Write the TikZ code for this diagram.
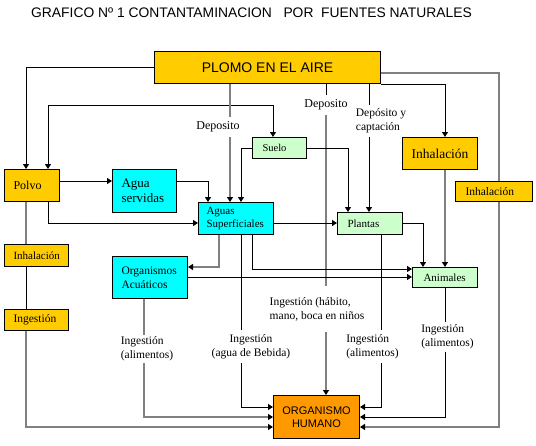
\documentclass[tikz,border=0pt]{standalone}
\usepackage{fontspec}
\setmainfont{Liberation Serif}
\newfontfamily\arialf{Liberation Sans}
\usetikzlibrary{arrows.meta}
\definecolor{gold}{RGB}{255,204,0}
\definecolor{aqua}{RGB}{0,255,255}
\definecolor{lgreen}{RGB}{204,255,204}
\definecolor{orng}{RGB}{255,153,0}
\definecolor{gline}{RGB}{128,128,128}
\newcommand\myfs[2]{\fontsize{#1}{#2}\selectfont}
\pgfdeclarelayer{background}
\pgfsetlayers{background,main}
\begin{document}
\begin{tikzpicture}[x=1pt,y=-1pt,
  box/.style={draw=black, line width=1pt, anchor=north west, inner ysep=0pt, align=left},
  lab/.style={inner xsep=1pt, align=left, font=\myfs{11.5}{14}},
  ln/.style={line width=1pt, draw=black},
  gl/.style={line width=1.3pt, draw=gline},
  arr/.style={-{Triangle[length=5pt,width=6pt,color=black]}},
  arrboth/.style={{Triangle[length=5pt,width=6pt,color=black]}-{Triangle[length=5pt,width=6pt,color=black]}}
]
\useasboundingbox (0,0) rectangle (536,445);

% columns and rows
\coordinate (x26) at (26,0);
\coordinate (x48) at (48,0);
\coordinate (x144) at (144,0);
\coordinate (x208) at (208,0);
\coordinate (x219) at (219,0);
\coordinate (x230) at (230,0);
\coordinate (x241) at (241,0);
\coordinate (x252) at (252,0);
\coordinate (x273) at (273,0);
\coordinate (x326) at (326,0);
\coordinate (x348) at (348,0);
\coordinate (x369) at (369,0);
\coordinate (x381) at (381,0);
\coordinate (x423) at (423,0);
\coordinate (x445) at (445,0);
\coordinate (x499) at (499,0);
\coordinate (y73) at (0,73);
\coordinate (y105) at (0,105);
\coordinate (y181) at (0,181);
\coordinate (y223) at (0,223);
\coordinate (y267) at (0,267);
\coordinate (y269) at (0,269);
\coordinate (y277) at (0,277);
\coordinate (y407) at (0,407);
\coordinate (y417) at (0,417);
\coordinate (y427) at (0,427);

% title
\node[anchor=base west, font=\arialf\myfs{13.85}{16}, inner sep=0pt] (title) at (31,17)
  {GRAFICO Nº 1 CONTANTAMINACION\ \ \ POR\ \ FUENTES NATURALES};

% boxes
\node[box, fill=gold, minimum width=226pt, minimum height=32pt, align=center, font=\arialf\myfs{14}{16}] (plomo) at (154,51) {PLOMO EN EL AIRE};
\node[box, fill=gold, minimum width=55pt, minimum height=32pt, inner xsep=9pt, text width=37pt, font=\myfs{12}{14}] (polvo) at (4,169) {Polvo};
\node[box, fill=aqua, minimum width=64pt, minimum height=43pt, inner xsep=9pt, text width=46pt, font=\myfs{13}{15}] (aguaserv) at (112,169) {Agua\\servidas};
\node[box, fill=lgreen, minimum width=54pt, minimum height=21pt, inner xsep=10pt, text width=34pt, font=\myfs{10.5}{13}] (suelo) at (252,137) {Suelo};
\node[box, fill=aqua, minimum width=75pt, minimum height=32pt, inner xsep=8pt, text width=59pt, font=\myfs{11}{13}] (aguasup) at (198,202) {Aguas\\Superficiales};
\node[box, fill=lgreen, minimum width=65pt, minimum height=22pt, inner xsep=10pt, text width=45pt, font=\myfs{11}{13}] (plantas) at (337,212) {Plantas};
\node[box, fill=gold, minimum width=75pt, minimum height=32pt, align=center, font=\myfs{13.5}{15}] (inhal) at (402,137) {Inhalación};
\node[box, fill=gold, minimum width=77pt, minimum height=20pt, inner xsep=10pt, text width=57pt, font=\myfs{11.5}{13}] (inhal2) at (455,181) {Inhalación};
\node[box, fill=gold, minimum width=64pt, minimum height=22pt, inner xsep=9pt, text width=46pt, font=\myfs{11}{13}] (inhalL) at (4,244) {Inhalación};
\node[box, fill=gold, minimum width=64pt, minimum height=21pt, inner xsep=9pt, text width=46pt, font=\myfs{11.5}{13}] (ingest) at (4,309) {Ingestión};
\node[box, fill=aqua, minimum width=75pt, minimum height=42pt, inner xsep=9pt, text width=57pt, font=\myfs{11.5}{14}] (organ) at (112,256) {Organismos\\Acuáticos};
\node[box, fill=lgreen, minimum width=65pt, minimum height=20pt, inner xsep=11pt, text width=43pt, font=\myfs{11}{13}] (animales) at (412,267) {Animales};
\node[box, fill=orng, minimum width=86pt, minimum height=43pt, align=center, font=\arialf\myfs{11}{13}] (org) at (273,395) {ORGANISMO\\HUMANO};

% labels on connectors
\node[lab, font=\myfs{12}{14}, inner ysep=5pt] (dep1) at (218,127) {Deposito};
\node[lab, font=\myfs{12}{14}, inner ysep=5pt] (dep2) at (326,105) {Deposito};
\node[lab, inner ysep=3.5pt] (depc) at (381,121) {Depósito y\\captación};
\node[lab, inner ysep=10.5pt] (hab) at (317,309) {Ingestión (hábito,\\mano, boca en niños};
\node[lab, inner ysep=1.5pt] (ingA) at (147,349) {Ingestión\\(alimentos)};
\node[lab, align=center, inner ysep=4pt] (ingB) at (251,346.5) {Ingestión\\(agua de Bebida)};
\node[lab, inner ysep=4pt] (ingC) at (372.5,346.5) {Ingestión\\(alimentos)};
\node[lab, inner ysep=2.5pt] (ingD) at (447.5,337) {Ingestión\\(alimentos)};

% connectors
\begin{pgfonlayer}{background}
\draw[ln,arr] (plomo.west) -| (polvo.north -| x26);
\draw[ln,arrboth] (polvo.north -| x48) |- (y105 -| x273) -- (suelo.north -| x273);
\draw[gl] (plomo.south -| x230) -- (dep1.north -| x230);
\draw[gl,arr] (dep1.south -| x230) -- (aguasup.north -| x230);
\draw[ln] (plomo.south -| x326) -- (dep2.north -| x326);
\draw[gl] (dep2.south -| x326) -- (hab.north -| x326);
\draw[gl,arr] (hab.south -| x326) -- (org.north -| x326);
\draw[ln] (plomo.south -| x369) -- (depc.north -| x369);
\draw[ln,arr] (depc.south -| x369) -- (plantas.north -| x369);
\draw[ln,arr] (plomo.south east) -| (inhal.north -| x445);
\draw[gl] (plomo.east |- y73) -| (inhal2.north -| x499);
\draw[gl,arr] (inhal2.south -| x499) |- (org.east |- y427);
\draw[gl] (polvo.south -| x26) -- (inhalL.north -| x26);
\draw[ln] (inhalL.south -| x26) -- (ingest.north -| x26);
\draw[gl,arr] (ingest.south -| x26) |- (org.west |- y427);
\draw[ln,arr] (polvo.east |- y181) -- (aguaserv.west |- y181);
\draw[ln,arr] (polvo.south -| x48) |- (aguasup.west |- y223);
\draw[ln,arr] (aguaserv.east |- y181) -| (aguasup.north -| x208);
\draw[ln,arr] (suelo.west) -| (aguasup.north -| x241);
\draw[ln,arr] (suelo.east) -| (plantas.north -| x348);
\draw[ln,arr] (aguasup.east |- y223) -- (plantas.west |- y223);
\draw[gl,arr] (aguasup.south -| x219) |- (organ.east |- y267);
\draw[ln,arr] (aguasup.south -| x252) |- (animales.west |- y269);
\draw[ln,arr] (organ.east |- y277) -- (animales.west |- y277);
\draw[ln,arr] (plantas.east) -| (animales.north -| x423);
\draw[gl,arr] (inhal.south -| x445) -- (animales.north -| x445);
\draw[ln] (aguasup.south -| x241) -- (ingB.north -| x241);
\draw[ln,arr] (ingB.south -| x241) |- (org.west |- y407);
\draw[gl] (organ.south -| x144) -- (ingA.north -| x144);
\draw[gl,arr] (ingA.south -| x144) |- (org.west |- y417);
\draw[ln] (plantas.south -| x381) -- (ingC.north -| x381);
\draw[ln,arr] (ingC.south -| x381) |- (org.east |- y407);
\draw[ln] (animales.south -| x445) -- (ingD.north -| x445);
\draw[ln,arr] (ingD.south -| x445) |- (org.east |- y417);
\end{pgfonlayer}
\end{tikzpicture}
\end{document}
